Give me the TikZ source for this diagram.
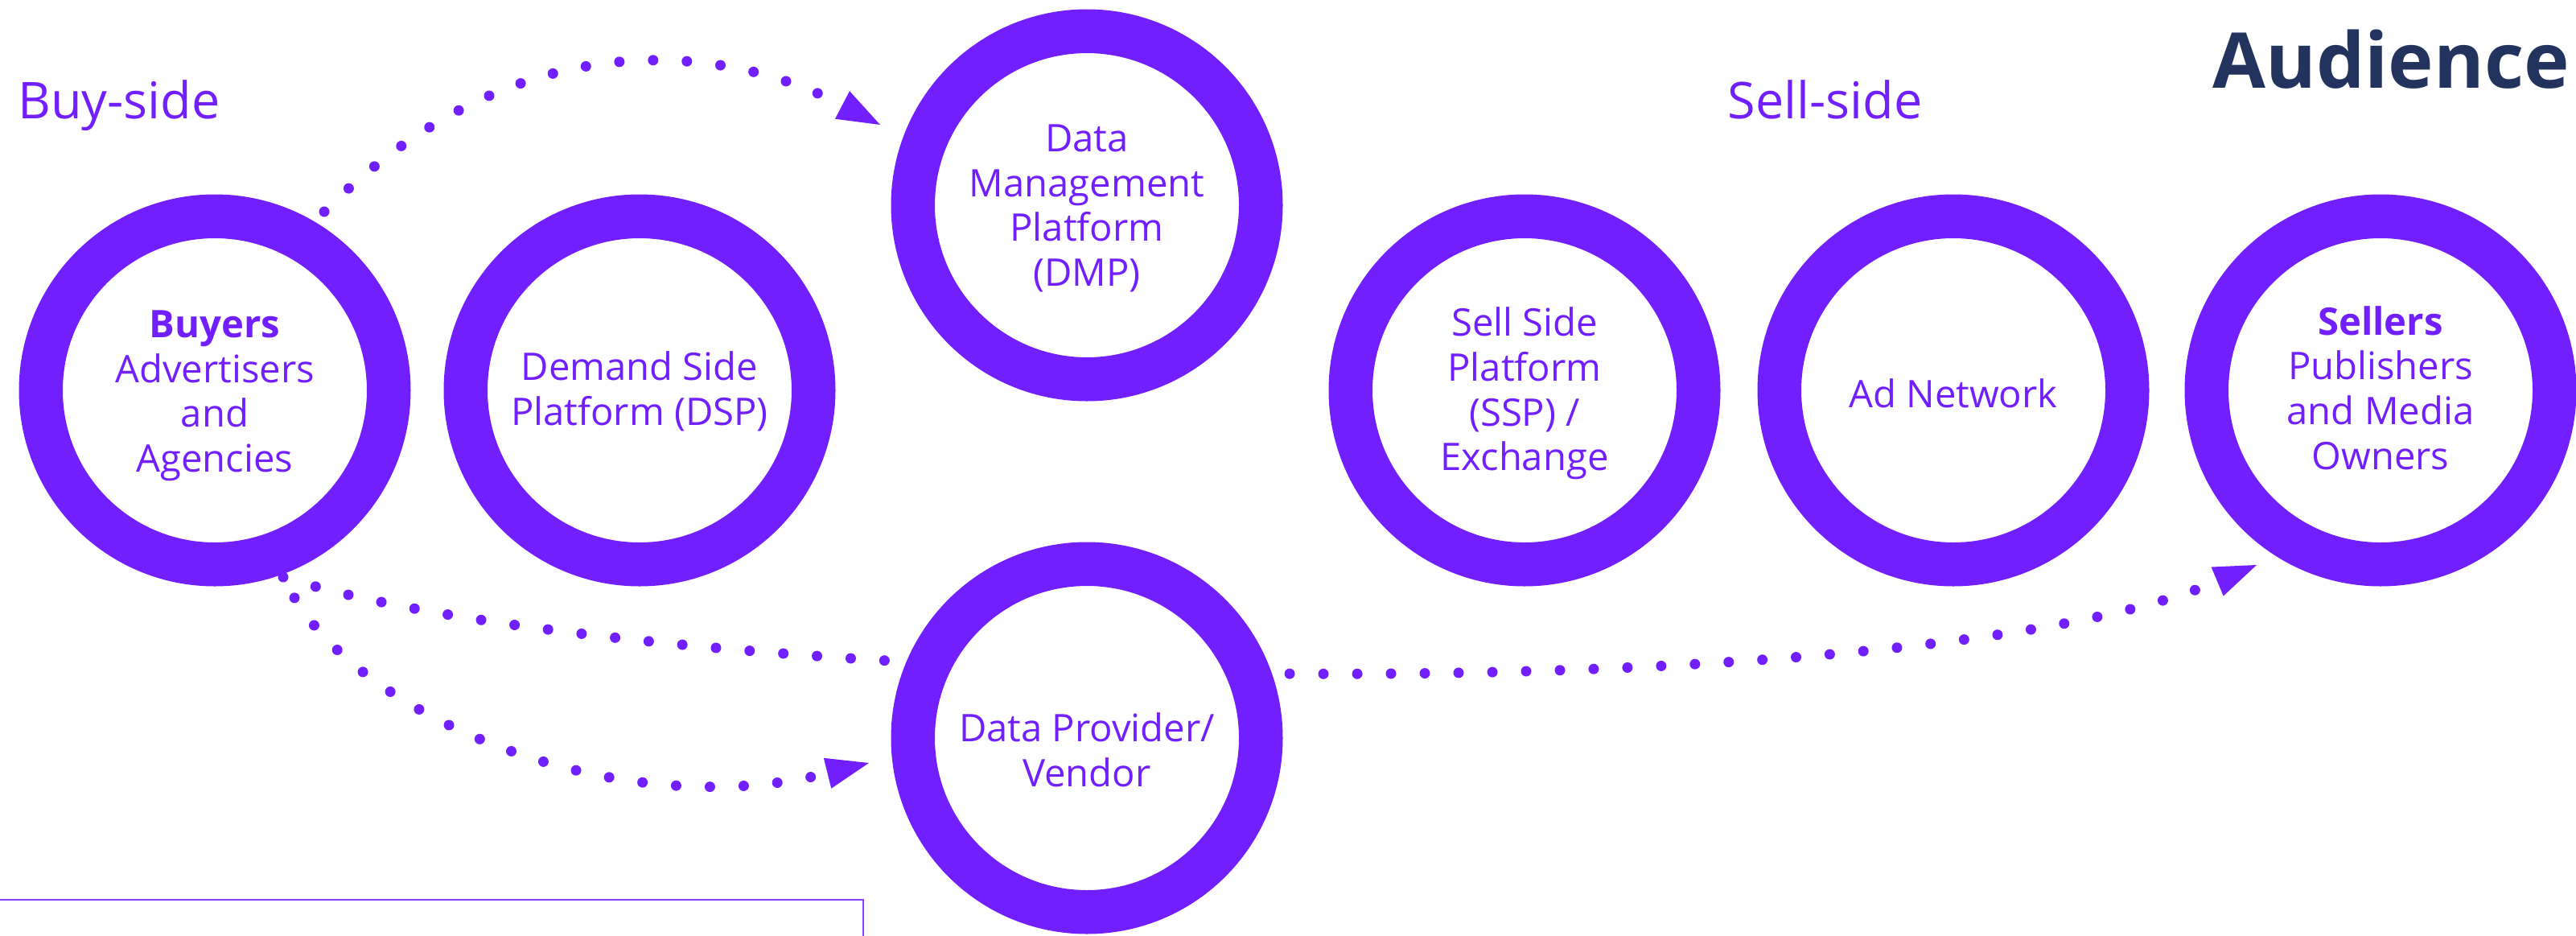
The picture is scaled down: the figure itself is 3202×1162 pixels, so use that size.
\documentclass[tikz,border=0pt]{standalone}
\usepackage{fontspec}
\setmainfont{Open Sans}
\usetikzlibrary{arrows.meta}
\definecolor{brandpurple}{RGB}{114,31,255}
\definecolor{navy}{RGB}{34,51,94}
\pgfdeclarelayer{bg}
\pgfsetlayers{bg,main}
\tikzset{
  ring/.style={circle, draw=brandpurple, line width=27.25pt, fill=white, minimum size=216.25pt, inner sep=0pt},
  ringtext/.style={text=brandpurple, align=center, font=\fontsize{23.6}{27.8}\selectfont, inner sep=0pt},
  sidelabel/.style={text=brandpurple, font=\fontsize{31.5}{37}\selectfont, inner sep=0pt, anchor=base west},
  flow/.style={draw=brandpurple, line width=6.5pt, line cap=round, dash pattern=on 0pt off 21pt},
  flowtip/.style={-{Triangle[length=26.5pt,width=19.5pt,line width=0pt]}},
}
\begin{document}
\begin{tikzpicture}[x=0.5pt,y=-0.5pt]
\useasboundingbox (0,0) rectangle (3202,1162);
% rings
\node[ring] (buyers)  at (267,485)  {};
\node[ring] (dsp)     at (795,485)  {};
\node[ring] (dmp)     at (1351,255) {};
\node[ring] (ssp)     at (1895,485) {};
\node[ring] (adn)     at (2428,485) {};
\node[ring] (sellers) at (2959,485) {};
\node[ring] (dp)      at (1351,917) {};
% ring texts
\node[ringtext] (buyersT)  at (267,492)  {\textbf{Buyers}\\Advertisers\\and\\Agencies};
\node[ringtext] (dspT)     at (795,486)  {Demand Side\\Platform (DSP)};
\node[ringtext] (dmpT)     at (1351,259) {Data\\Management\\Platform\\(DMP)};
\node[ringtext] (sspT)     at (1895,489) {Sell Side\\Platform\\(SSP) /\\Exchange};
\node[ringtext] (adnT)     at (2428,489) {Ad Network};
\node[ringtext] (sellersT) at (2959,482) {\textbf{Sellers}\\Publishers\\and Media\\Owners};
\node[ringtext] (dpT)      at (1351,932) {Data Provider/\\Vendor};
% headings
\node[sidelabel] (buy)  at (22,147)   {Buy-side};
\node[sidelabel] (sell) at (2147,147) {Sell-side};
\node[font=\bfseries\fontsize{47.8}{57}\selectfont, text=navy, anchor=base west, inner sep=0pt] (aud) at (2750,109) {Audience};
% partial box at bottom left
\draw[brandpurple!85, line width=1pt] (-5,1118) -- (1073,1118) -- (1073,1180);
% connectors
\begin{pgfonlayer}{bg}
\draw[flow, flowtip] ([shift={(136,-222)}]buyers.center) .. controls (653,13) and (914,61) .. ([shift={(-257,-100)}]dmp.center);
\draw[flow, flowtip] ([shift={(85,232)}]buyers.center) .. controls (802,861) and (2355,891) .. ([shift={(-154,217)}]sellers.center);
\draw[flow, flowtip] ([shift={(81,220)}]buyers.center) .. controls (407,874) and (750,1030) .. ([shift={(-271,31)}]dp.center);
\end{pgfonlayer}
\end{tikzpicture}
\end{document}
